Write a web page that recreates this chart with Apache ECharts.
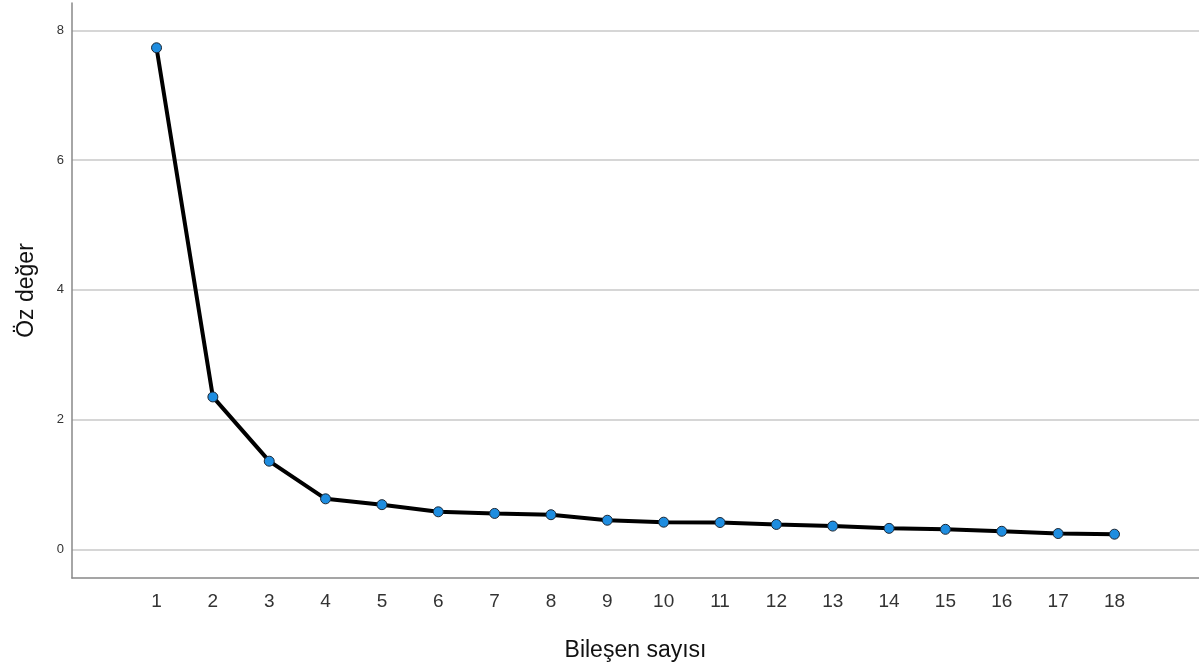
<!DOCTYPE html>
<html>
<head>
<meta charset="utf-8">
<script src="https://cdn.jsdelivr.net/npm/echarts@6/dist/echarts.min.js"></script>
<style>
  html, body { margin: 0; padding: 0; background: #fff; }
  #myChart { width: 1199px; height: 668px; }
</style>
</head>
<body>
<div id="myChart"></div>
<script>
// bileşen numaraları ve öz değerler
const components = [1, 2, 3, 4, 5, 6, 7, 8, 9, 10, 11, 12, 13, 14, 15, 16, 17, 18];
const eigenValues = [7.73, 2.35, 1.36, 0.78, 0.69, 0.58, 0.555, 0.535, 0.45, 0.42, 0.415, 0.385, 0.36, 0.325, 0.31, 0.28, 0.245, 0.235];
const xTicks = components;

const myChart = echarts.init(document.getElementById("myChart"));

const option = {
  animation: false,
  grid: {
    left: 72,
    right: 0,
    top: 3,
    bottom: 90,
    containLabel: false,
    outerBoundsMode: "none",
  },
  xAxis: {
    type: "value",
    min: -0.5,
    max: 19.5,
    name: "Bileşen sayısı",
    nameLocation: "middle",
    nameGap: 61,
    nameTextStyle: {
      fontFamily: "Liberation Sans",
      fontSize: 23,
      color: "#111",
    },
    axisLine: { show: true, onZero: false, lineStyle: { color: "#888", width: 1.5 } },
    axisTick: { show: false },
    splitLine: { show: false },
    axisLabel: {
      customValues: xTicks,
      fontFamily: "Liberation Sans",
      fontSize: 19,
      color: "#333",
      margin: 14,
    },
  },
  yAxis: {
    type: "value",
    min: -0.44,
    max: 8.42,
    name: "Öz değer",
    nameLocation: "middle",
    nameGap: 34,
    nameRotate: 90,
    nameTextStyle: {
      fontFamily: "Liberation Sans",
      fontSize: 23,
      color: "#111",
    },
    axisLine: { show: true, onZero: false, lineStyle: { color: "#888", width: 1.5 } },
    axisTick: { show: false },
    axisLabel: {
      showMinLabel: false,
      showMaxLabel: false,
      fontFamily: "Liberation Sans",
      fontSize: 13,
      color: "#333",
      margin: 8,
    },
    splitLine: {
      show: true,
      showMinLine: false,
      showMaxLine: false,
      lineStyle: { color: "#c8c8c8", width: 1.5 },
    },
  },
  series: [
    {
      type: "line",
      data: components.map((c, i) => [c, eigenValues[i]]),
      symbol: "circle",
      symbolSize: 10,
      lineStyle: { color: "#000", width: 4 },
      itemStyle: {
        color: "#1e8de0",
        borderColor: "#1b2633",
        borderWidth: 1,
      },
    },
  ],
};

myChart.setOption(option);
</script>
</body>
</html>
